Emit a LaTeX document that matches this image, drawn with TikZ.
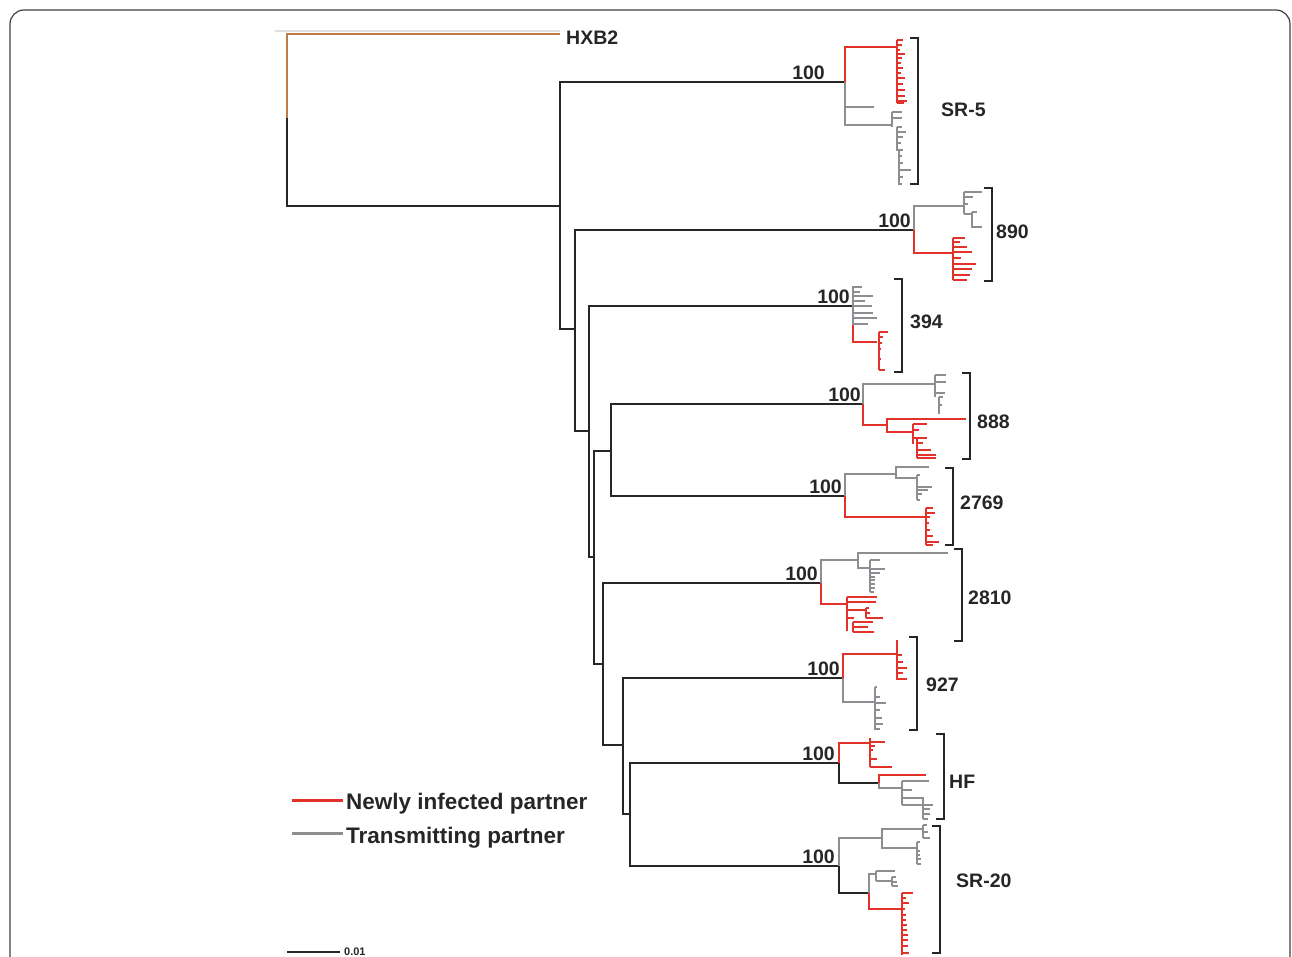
\documentclass[tikz,border=0pt]{standalone}
\usepackage{fontspec}
\setmainfont{Liberation Sans}
\usepackage{xcolor}
\usepackage{tikz}
\usetikzlibrary{positioning}

\definecolor{newred}{RGB}{226,50,42}
\definecolor{trgray}{RGB}{142,142,146}
\definecolor{hxbrown}{RGB}{190,124,70}
\definecolor{stemblack}{RGB}{38,38,38}

\tikzset{
  stem/.style={draw=stemblack, line width=2pt},
  newly/.style={draw=newred, line width=1.6pt},
  trans/.style={draw=trgray, line width=1.6pt},
  hxb/.style={draw=hxbrown, line width=2pt},
  brace/.style={draw=stemblack, line width=1.3pt},
  boot/.style={font=\fontsize{19.5}{20}\selectfont\bfseries, text=stemblack, anchor=base east, inner sep=0pt},
  clade/.style={font=\fontsize{19.5}{20}\selectfont\bfseries, text=stemblack, anchor=base west, inner sep=0pt},
  key/.style={font=\fontsize{22.5}{24}\selectfont\bfseries, text=stemblack, anchor=base west, inner sep=0pt},
}
% short tips off a comb: style, top of the comb, list of dy/length
\newcommand{\twigs}[3]{\foreach \ty/\tw in {#3} \draw[#1] (#2) ++(0,\ty) -- ++(\tw,0);}

\begin{document}
\begin{tikzpicture}[x=1pt, y=-1pt]
\useasboundingbox (0,0) rectangle (1292,956);
\clip (0,0) rectangle (1292,956);
\draw[draw=black!75, line width=1.2pt, rounded corners=14pt] (10,10) rectangle (1290,1010);
\draw[black!12, line width=2.5pt] (275,31) -- (560,31);

% backbone
\coordinate (v0) at (287,206);
\coordinate (v0h) at (287,118);
\coordinate (hxb2) at (560,34);
\coordinate (v1) at (560,206);
\coordinate (v2) at (575,329);
\coordinate (v3) at (589,431);
\coordinate (v4) at (594,557);
\coordinate (v5) at (611,451);
\coordinate (v6) at (603,664);
\coordinate (v7) at (623,745);
\coordinate (v8) at (630,814);
% clade roots
\coordinate (c1) at (845,82);
\coordinate (c2) at (914,230);
\coordinate (c3) at (853,306);
\coordinate (c4) at (863,404);
\coordinate (c5) at (845,496);
\coordinate (c6) at (821,583);
\coordinate (c7) at (843,678);
\coordinate (c8) at (839,763);
\coordinate (c9) at (839,866);

\draw[hxb] (v0h) |- (hxb2);
\draw[stem] (v0h) -- (v0) -- (v1);
\draw[stem] (v1) |- (c1);
\draw[stem] (v1) |- (v2);
\draw[stem] (v2) |- (c2);
\draw[stem] (v2) |- (v3);
\draw[stem] (v3) |- (c3);
\draw[stem] (v3) |- (v4);
\draw[stem] (v4) |- (v5);
\draw[stem] (v4) |- (v6);
\draw[stem] (v5) |- (c4);
\draw[stem] (v5) |- (c5);
\draw[stem] (v6) |- (c6);
\draw[stem] (v6) |- (v7);
\draw[stem] (v7) |- (c7);
\draw[stem] (v7) |- (v8);
\draw[stem] (v8) |- (c8);
\draw[stem] (v8) |- (c9);

\node[clade] (lhxb) at (566,44) {HXB2};
\foreach \c/\dx in {c1/20, c2/3, c3/3, c4/2, c5/3, c6/3, c7/3, c8/4, c9/4}
  \node[boot] (b\c) at ([xshift=-\dx pt, yshift=3pt]\c) {100};

% SR-5
\coordinate (s5r) at (897,47);
\coordinate (s5a) at (874,107);
\coordinate (s5g) at (892,125);
\draw[newly] (c1) |- (s5r);
\coordinate (s5rc) at (897,40);
\draw[newly] (s5rc) -- ++(0,63);
\twigs{newly}{s5rc}{0/6, 5/5, 10/3, 14/8, 18/5, 23/4, 28/6, 33/4, 38/8, 44/6, 50/8, 56/8, 61/10, 63/7}
\draw[trans] (c1) |- (s5a);
\draw[trans] (c1) |- (s5g);
\coordinate (s5gc) at (892,112);
\draw[trans] (s5gc) -- ++(0,15);
\twigs{trans}{s5gc}{0/10, 6/10}
\coordinate (s5gd) at (897,127);
\draw[trans] (s5gd) -- ++(0,24);
\twigs{trans}{s5gd}{0/5, 5/9, 10/6, 16/4, 23/6}
\coordinate (s5ge) at (899,150);
\draw[trans] (s5ge) -- ++(0,35);
\twigs{trans}{s5ge}{0/4, 6/3, 13/4, 20/12, 27/4, 34/3}
\draw[brace] (910,38) -- (918,38) -- (918,184) -- (910,184);
\node[clade] (lsr5) at (941,116) {SR-5};

% 890
\coordinate (n89g) at (964,206);
\coordinate (n89r) at (953,253);
\draw[trans] (c2) |- (n89g);
\draw[newly] (c2) |- (n89r);
\coordinate (n89gc) at (964,192);
\draw[trans] (n89gc) -- ++(0,22);
\twigs{trans}{n89gc}{0/18, 5/9, 12/4, 22/8}
\coordinate (n89gd) at (972,212);
\draw[trans] (n89gd) -- ++(0,16);
\twigs{trans}{n89gd}{0/5, 15/10}
\coordinate (n89rc) at (953,238);
\draw[newly] (n89rc) -- ++(0,42);
\twigs{newly}{n89rc}{0/12, 4/7, 9/14, 14/19, 20/8, 26/23, 31/19, 37/17, 42/14}
\draw[brace] (984,188) -- (992,188) -- (992,281) -- (984,281);
\node[clade] (l890) at (996,238) {890};

% 394
\coordinate (n39g) at (862,287);
\coordinate (n39gb) at (853,325);
\coordinate (n39r) at (877,342);
\draw[trans] (c3) |- (n39g);
\draw[trans] (n39g) -| (n39gb);
\twigs{trans}{c3}{-14/7, -10/20, -5/12, 0/19, 7/20, 12/24, 18/15}
\draw[newly] (n39gb) |- (n39r);
\coordinate (n39rc) at (879,332);
\draw[newly] (n39rc) -- ++(0,38);
\twigs{newly}{n39rc}{0/9, 5/4, 11/3, 17/2, 27/2, 38/6}
\draw[brace] (894,279) -- (902,279) -- (902,372) -- (894,372);
\node[clade] (l394) at (910,328) {394};

% 888
\coordinate (n88g) at (935,384);
\coordinate (n88r) at (887,425);
\coordinate (n88l) at (966,419);
\coordinate (n88s) at (913,432);
\draw[trans] (c4) |- (n88g);
\draw[newly] (c4) |- (n88r);
\draw[newly] (n88r) |- (n88l);
\draw[newly] (n88r) |- (n88s);
\coordinate (n88gc) at (935,375);
\draw[trans] (n88gc) -- ++(0,22);
\twigs{trans}{n88gc}{0/11, 7/11, 18/10}
\coordinate (n88gd) at (939,397);
\draw[trans] (n88gd) -- ++(0,17);
\twigs{trans}{n88gd}{0/4, 8/3}
\coordinate (n88sc) at (913,424);
\draw[newly] (n88sc) -- ++(0,20);
\twigs{newly}{n88sc}{0/14, 6/6, 14/14}
\coordinate (n88sd) at (917,438);
\draw[newly] (n88sd) -- ++(0,20);
\twigs{newly}{n88sd}{0/10, 5/6, 12/14, 17/19, 20/19}
\draw[brace] (962,373) -- (970,373) -- (970,459) -- (962,459);
\node[clade] (l888) at (977,428) {888};

% 2769
\coordinate (n27g) at (896,474);
\coordinate (n27l) at (929,467);
\coordinate (n27s) at (917,478);
\coordinate (n27r) at (925,517);
\draw[trans] (c5) |- (n27g);
\draw[trans] (n27g) |- (n27l);
\draw[trans] (n27g) |- (n27s);
\coordinate (n27sc) at (917,475);
\draw[trans] (n27sc) -- ++(0,25);
\twigs{trans}{n27sc}{0/3, 12/15, 15/11, 19/5, 25/3}
\draw[newly] (c5) |- (n27r);
\coordinate (n27rc) at (926,508);
\draw[newly] (n27rc) -- ++(0,37);
\twigs{newly}{n27rc}{0/7, 5/9, 9/4, 15/3, 22/4, 28/7, 34/13, 37/7}
\draw[brace] (945,468) -- (953,468) -- (953,545) -- (945,545);
\node[clade] (l2769) at (960,509) {2769};

% 2810
\coordinate (n28g) at (858,560);
\coordinate (n28l) at (948,553);
\coordinate (n28s) at (870,568);
\coordinate (n28r) at (847,604);
\draw[trans] (c6) |- (n28g);
\draw[trans] (n28g) |- (n28l);
\draw[trans] (n28g) |- (n28s);
\coordinate (n28sc) at (870,560);
\draw[trans] (n28sc) -- ++(0,32);
\twigs{trans}{n28sc}{0/10, 9/15, 13/10, 17/5, 20/5, 24/5, 28/5, 32/4}
\draw[newly] (c6) |- (n28r);
\coordinate (n28rc) at (847,597);
\draw[newly] (n28rc) -- ++(0,34);
\twigs{newly}{n28rc}{0/30, 5/29, 13/19, 21/7}
\coordinate (n28rd) at (866,608);
\draw[newly] (n28rd) -- ++(0,10);
\twigs{newly}{n28rd}{0/3, 5/4, 10/17}
\coordinate (n28re) at (853,622);
\draw[newly] (n28re) -- ++(0,10);
\twigs{newly}{n28re}{0/20, 5/15, 10/21}
\draw[brace] (954,549) -- (962,549) -- (962,641) -- (954,641);
\node[clade] (l2810) at (968,604) {2810};

% 927
\coordinate (n92r) at (897,654);
\coordinate (n92g) at (875,702);
\draw[newly] (c7) |- (n92r);
\coordinate (n92rc) at (897,640);
\draw[newly] (n92rc) -- ++(0,40);
\twigs{newly}{n92rc}{15/5, 22/6, 28/10, 33/6, 39/10}
\draw[trans] (c7) |- (n92g);
\coordinate (n92gc) at (875,687);
\draw[trans] (n92gc) -- ++(0,43);
\twigs{trans}{n92gc}{0/2, 10/5, 16/11, 23/5, 31/7, 37/8, 42/5}
\draw[brace] (909,637) -- (917,637) -- (917,730) -- (909,730);
\node[clade] (l927) at (926,691) {927};

% HF
\coordinate (hfr) at (870,743);
\coordinate (hfn) at (879,783);
\coordinate (hfl) at (926,775);
\coordinate (hfg) at (902,788);
\draw[newly] (c8) |- (hfr);
\coordinate (hfrc) at (870,738);
\draw[newly] (hfrc) -- ++(0,29);
\twigs{newly}{hfrc}{4/15, 8/5, 12/3, 21/7, 29/22}
\draw[stem] (c8) |- (hfn);
\draw[newly] (hfn) |- (hfl);
\draw[trans] (hfn) |- (hfg);
\coordinate (hfgc) at (902,781);
\draw[trans] (hfgc) -- ++(0,24);
\twigs{trans}{hfgc}{0/27, 9/10, 17/21, 24/21}
\coordinate (hfgd) at (923,797);
\draw[trans] (hfgd) -- ++(0,22);
\twigs{trans}{hfgd}{8/10, 12/7, 17/7, 22/5}
\draw[brace] (936,734) -- (944,734) -- (944,819) -- (936,819);
\node[clade] (lhf) at (949,788) {HF};

% SR-20
\coordinate (s20g) at (882,838);
\coordinate (s20a) at (923,829);
\coordinate (s20b) at (917,848);
\coordinate (s20n) at (869,893);
\coordinate (s20h) at (876,874);
\coordinate (s20r) at (902,909);
\draw[trans] (c9) |- (s20g);
\draw[trans] (s20g) |- (s20a);
\draw[trans] (s20g) |- (s20b);
\coordinate (s20ac) at (923,825);
\draw[trans] (s20ac) -- ++(0,13);
\twigs{trans}{s20ac}{0/4, 7/5, 13/7}
\coordinate (s20bc) at (917,842);
\draw[trans] (s20bc) -- ++(0,22);
\twigs{trans}{s20bc}{0/3, 9/3, 13/3, 17/4, 22/4}
\draw[stem] (c9) |- (s20n);
\draw[trans] (s20n) |- (s20h);
\coordinate (s20hc) at (876,871);
\draw[trans] (s20hc) -- ++(0,10);
\twigs{trans}{s20hc}{0/19, 10/16}
\coordinate (s20hd) at (892,877);
\draw[trans] (s20hd) -- ++(0,9);
\twigs{trans}{s20hd}{0/4, 5/5, 9/6}
\draw[newly] (s20n) |- (s20r);
\coordinate (s20rc) at (902,893);
\draw[newly] (s20rc) -- ++(0,62);
\twigs{newly}{s20rc}{0/11, 5/4, 10/7, 16/3, 22/4, 27/4, 32/5, 37/5, 42/6, 47/6, 53/6, 60/7}
\draw[brace] (932,826) -- (940,826) -- (940,953) -- (932,953);
\node[clade] (lsr20) at (956,887) {SR-20};

% legend
\coordinate (kr1) at (292,800);
\coordinate (kr2) at (343,800);
\coordinate (kg1) at (292,833);
\coordinate (kg2) at (343,833);
\draw[newly, line width=3pt] (kr1) -- (kr2);
\draw[trans, line width=3pt] (kg1) -- (kg2);
\node[key] (knew) at (346,809) {Newly infected partner};
\node[key] (ktr) at (346,843) {Transmitting partner};

% scale bar
\coordinate (sb1) at (287,952);
\coordinate (sb2) at (340,952);
\draw[stem] (sb1) -- (sb2);
\node[font=\fontsize{11}{12}\selectfont\bfseries, text=stemblack, anchor=base west, inner sep=0pt] (lsb) at (344,955) {0.01};
\end{tikzpicture}
\end{document}
